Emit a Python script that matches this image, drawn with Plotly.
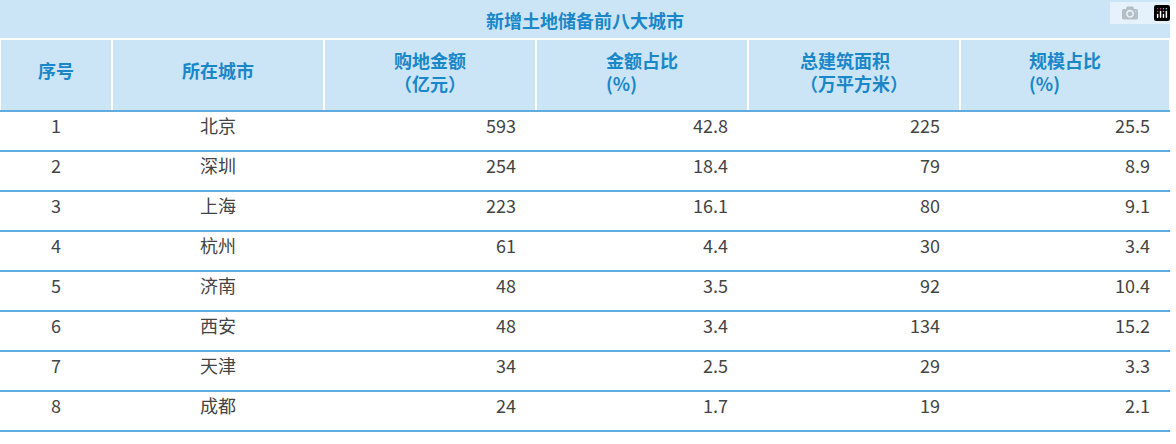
import plotly.graph_objects as go

title = "新增土地储备前八大城市"
headers = ["序号", "所在城市", "购地金额<br>（亿元）", "金额占比<br>(%)", "总建筑面积<br>（万平方米）", "规模占比<br>(%)"]
rank = ["1", "2", "3", "4", "5", "6", "7", "8"]
cities = ["北京", "深圳", "上海", "杭州", "济南", "西安", "天津", "成都"]
amount = ["593", "254", "223", "61", "48", "48", "34", "24"]
amount_pct = ["42.8", "18.4", "16.1", "4.4", "3.5", "3.4", "2.5", "1.7"]
area = ["225", "79", "80", "30", "92", "134", "29", "19"]
area_pct = ["25.5", "8.9", "9.1", "3.4", "10.4", "15.2", "3.3", "2.1"]

blue = "#1a87c9"
light = "#cbe5f6"
font = "Noto Sans CJK SC"
W, H, TOP = 1176, 444, 39
HEAD_H, ROW_H = 72, 40
plot_h = H - TOP
pad = "\u00a0" * 3


def head(h):
    if "<br>" in h:
        return f"<b>{h}</b>"
    return f"<span style='font-size:7px'> </span><br><b>{h}</b>"


def right(col):
    return [v + pad for v in col]


fig = go.Figure(go.Table(
    columnwidth=[112, 212, 212, 212, 212, 210],
    header=dict(values=[head(h) for h in headers], height=HEAD_H,
                fill_color=light, line=dict(color="white", width=2),
                align="center", font=dict(family=font, size=18, color=blue)),
    cells=dict(values=[rank, cities, right(amount), right(amount_pct), right(area), right(area_pct)],
               height=ROW_H, fill_color="white", line=dict(color="white", width=1),
               align=["center", "center", "right", "right", "right", "right"],
               font=dict(family=font, size=18, color="#444444")),
    domain=dict(x=[0, 1], y=[0, 1]),
))

shapes = [dict(type="rect", xref="paper", yref="paper", x0=0, x1=1, y0=1, y1=1 + TOP / plot_h,
               fillcolor=light, line=dict(width=0), layer="below")]
for i in range(len(cities) + 1):
    y = 1 - (HEAD_H + ROW_H * i) / plot_h
    shapes.append(dict(type="line", xref="paper", yref="paper", x0=0, x1=1, y0=y, y1=y,
                       line=dict(color="#2b8fd6", width=1.5)))

fig.update_layout(
    width=W, height=H, margin=dict(l=0, r=6, t=TOP, b=0),
    paper_bgcolor="white", shapes=shapes,
    annotations=[dict(text=f"<b>{title}</b>", xref="paper", yref="paper", x=0.5,
                      y=1 + TOP / 2 / plot_h, showarrow=False, yanchor="middle",
                      font=dict(family=font, size=18, color=blue))],
)
fig.write_html("out.html", post_script="document.body.style.margin='0';")
